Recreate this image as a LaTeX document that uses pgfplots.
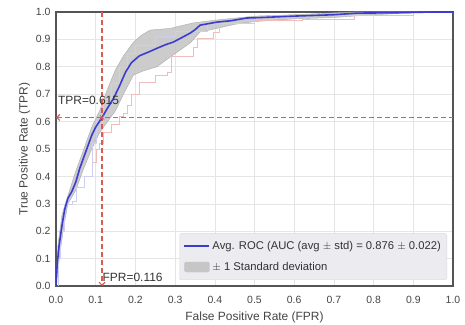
\documentclass[border=0pt]{standalone}
\usepackage{pgfplots}
\pgfplotsset{compat=1.18}
\usepgfplotslibrary{fillbetween}
\usetikzlibrary{arrows.meta}
\usepackage{fontspec}
\setmainfont{Liberation Sans}
\definecolor{rocblue}{HTML}{3B3BD0}
\definecolor{band}{HTML}{C6C6C6}
\definecolor{refred}{HTML}{DC5A55}
\definecolor{frame}{HTML}{555555}
\definecolor{tick}{HTML}{444444}
\definecolor{legbg}{HTML}{EBEBF0}
\begin{document}
\begin{tikzpicture}[x=1bp,y=1bp]
\begin{axis}[
  scale only axis, width=397bp, height=274bp,
  xmin=0, xmax=1, ymin=0, ymax=1,
  xtick={0,0.1,...,1.0}, ytick={0,0.1,...,1.0},
  /pgf/number format/.cd, fixed, fixed zerofill, precision=1, assume math mode=true,
  /pgfplots/.cd,
  tick label style={font=\fontsize{10.5}{12}\selectfont, text=tick},
  xticklabel style={yshift=-7bp},
  yticklabel style={xshift=-2bp},
  label style={font=\fontsize{12}{14}\selectfont, text=tick},
  xlabel={False Positive Rate (FPR)}, ylabel={True Positive Rate (TPR)},
  xlabel style={yshift=-1bp}, ylabel style={yshift=-1bp},
  grid=major, grid style={draw=gray!20, line width=0.6pt},
  axis line style={draw=frame, line width=1.4pt},
  tick style={draw=none},
  legend style={at={(1,0)}, xshift=-6bp, yshift=6bp, anchor=south east, fill=legbg, draw=gray!30, rounded corners=1.5pt,
    font=\fontsize{11.3}{13}\selectfont, text=black!80, row sep=7pt, inner xsep=4pt, inner ysep=6pt},
  legend cell align=left,
]
\addplot[name path=U, draw=gray!65, line width=0.4pt, forget plot] coordinates {
(0,0) (0.005,0.15) (0.015,0.26) (0.03,0.33) (0.05,0.42) (0.07,0.5) (0.09,0.58) (0.11,0.64) (0.13,0.72) (0.15,0.79) (0.17,0.84) (0.195,0.89) (0.215,0.915) (0.237,0.934) (0.287,0.94) (0.345,0.96) (0.4,0.97) (0.5,0.985) (0.6,0.99) (0.75,1) (1,1)};
\addplot[name path=L, draw=gray!65, line width=0.4pt, forget plot] coordinates {
(0,0) (0.01,0.12) (0.02,0.22) (0.03,0.3) (0.05,0.35) (0.07,0.43) (0.09,0.5) (0.11,0.56) (0.13,0.6) (0.15,0.64) (0.17,0.7) (0.195,0.77) (0.22,0.785) (0.254,0.80) (0.295,0.843) (0.338,0.887) (0.363,0.927) (0.405,0.94) (0.45,0.955) (0.5,0.965) (0.6,0.975) (0.7,0.98) (0.8,0.99) (0.9,0.997) (1,1)};
\addplot[band, opacity=0.9, forget plot] fill between[of=U and L];
% individual folds
\addplot[const plot, draw=refred!40, line width=0.4pt, forget plot] coordinates {
(0.09,0.45) (0.1,0.5) (0.11,0.52) (0.12,0.56) (0.14,0.59) (0.16,0.62) (0.17,0.63) (0.18,0.66) (0.19,0.70) (0.21,0.745) (0.25,0.77) (0.28,0.78) (0.29,0.84) (0.345,0.87) (0.355,0.905) (0.395,0.927) (0.41,0.96) (0.5,0.97) (0.62,0.975) (0.75,0.99) (0.9,1) (1,1)};
\addplot[const plot, draw=rocblue!25, line width=0.4pt, forget plot] coordinates {
(0,0) (0.005,0.1) (0.01,0.2) (0.02,0.3) (0.04,0.31) (0.05,0.36) (0.07,0.40) (0.09,0.52) (0.1,0.6) (0.12,0.68) (0.14,0.74) (0.16,0.80) (0.18,0.85) (0.2,0.88) (0.25,0.91) (0.3,0.93) (0.38,0.96) (0.5,0.98) (0.6,0.99) (0.8,1) (1,1)};
% reference lines
\addplot[draw=refred, dash pattern=on 5bp off 3bp, line width=1.2pt, {Straight Barb[length=3bp,width=6bp]}-, forget plot] coordinates {(0,0.615) (0.5,0.615) (1,0.615)};
\addplot[draw=refred, dash pattern=on 5bp off 3bp, line width=1.2pt, -{Straight Barb[length=3bp,width=6bp]}, forget plot] coordinates {(0.116,1) (0.116,0)};
\addplot[rocblue, line width=1.6pt, legend image code/.code={\draw[rocblue, line width=2pt] (0bp,0bp) -- (25bp,0bp);}] coordinates {
(0,0) (0.003,0.08) (0.008,0.15) (0.015,0.22) (0.022,0.28) (0.03,0.32) (0.04,0.345) (0.05,0.38) (0.06,0.43) (0.07,0.47) (0.08,0.51) (0.09,0.55) (0.1,0.58) (0.116,0.615) (0.13,0.65) (0.145,0.685) (0.16,0.73) (0.175,0.78) (0.19,0.815) (0.21,0.84) (0.235,0.855) (0.255,0.868) (0.275,0.88) (0.295,0.89) (0.315,0.905) (0.338,0.923) (0.35,0.935) (0.363,0.952) (0.405,0.963) (0.44,0.968) (0.48,0.978) (0.52,0.98) (0.6,0.985) (0.7,0.99) (0.76,0.996) (0.85,0.997) (0.95,1.0) (1,1)};
\addlegendentry{Avg. ROC (AUC (avg $\pm$ std) = 0.876 $\pm$ 0.022)}
\addlegendimage{legend image code/.code={\fill[band] (0bp,-5bp) rectangle (25bp,5bp);}}
\addlegendentry{$\pm$ 1 Standard deviation}
\addplot[only marks, mark=x, mark size=3pt, refred, thick, forget plot] coordinates {(0.116,0.615)};
\node[anchor=base west, font=\fontsize{12}{14}\selectfont, text=black!80, inner sep=0pt] at (axis cs:0.005,0.663) {TPR=0.615};
\node[anchor=base west, font=\fontsize{12}{14}\selectfont, text=black!80, inner sep=0pt] at (axis cs:0.117,0.018) {FPR=0.116};
\end{axis}
\pgfresetboundingbox
\path ([xshift=-56bp,yshift=-39bp]current axis.south west) rectangle ([xshift=12bp,yshift=12bp]current axis.north east);
\end{tikzpicture}
\end{document}
